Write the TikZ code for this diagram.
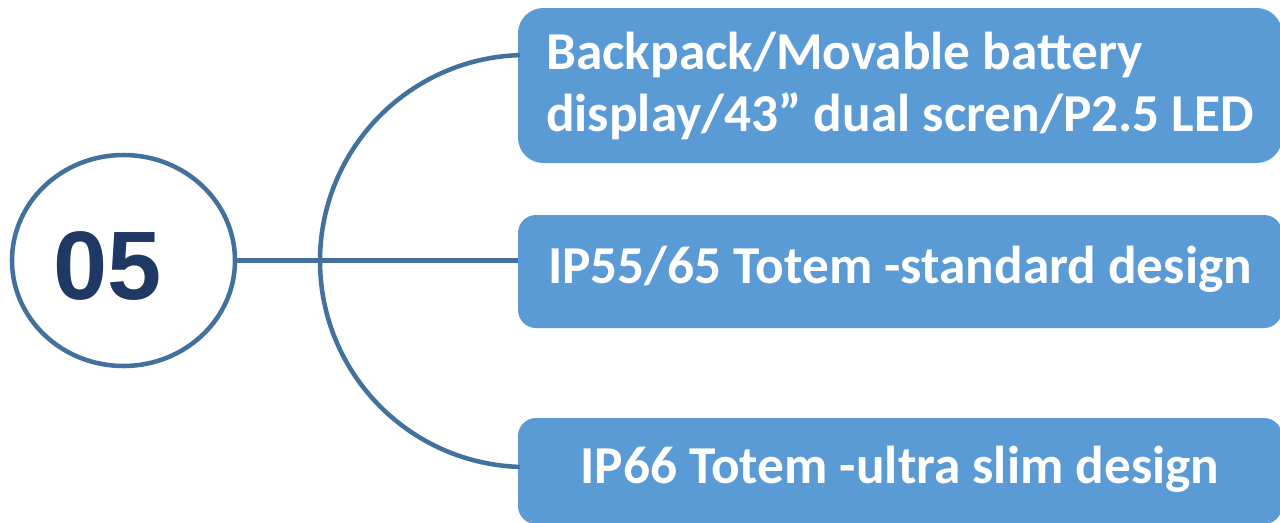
\documentclass[tikz,border=0pt]{standalone}
\usepackage{fontspec}
\setmainfont{Carlito}
\newfontfamily\numfont{Liberation Sans}
\usetikzlibrary{shapes.geometric,calc}
\definecolor{boxblue}{HTML}{5B9BD5}
\definecolor{linkblue}{HTML}{41719C}
\definecolor{numnavy}{HTML}{1F3864}

\begin{document}
\begin{tikzpicture}[x=0.75pt,y=-0.75pt,
  item/.style={fill=boxblue,draw=none,text=white,inner sep=0pt,
    font=\fontsize{40}{46.5}\selectfont\bfseries,minimum width=573pt},
  oneline/.style={item,rounded corners=13.5pt,text height=30pt,text depth=12pt},
  link/.style={draw=linkblue,line width=3.4pt}]
\useasboundingbox (0,0) rectangle (1280,522);

\node[ellipse,link,minimum width=167.25pt,minimum height=158.25pt,inner sep=0pt] (ring) at (123.5,260.5) {};
\node[font=\numfont\fontsize{73}{73}\selectfont\bfseries,text=numnavy] (num) at (108,265.5) {05};

\node[item,rounded corners=19pt,minimum height=116.25pt,align=left] (box1) at (900,85.5)
  {Backpack/Movable battery\\display/43” dual scren/P2.5 LED};
\node[oneline,minimum height=84.75pt] (box2) at (900,271.5)
  {IP55/65 Totem -standard design};
\node[oneline,minimum height=79.5pt] (box3) at (900,471)
  {IP66 Totem -ultra slim design};

\coordinate (hub) at (526,261);
\draw[link] (ring.east) -- (ring.east -| box2.west);
\draw[link] (hub) ++(268.3:206) arc[start angle=268.3,end angle=91.7,radius=206];
\end{tikzpicture}
\end{document}
